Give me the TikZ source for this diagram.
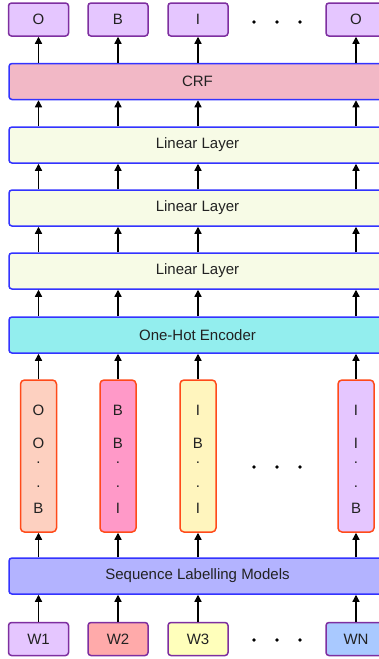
\documentclass[tikz,border=0pt]{standalone}
\usepackage{fontspec}
\setmainfont{Liberation Sans}
\usetikzlibrary{arrows.meta}

\definecolor{tagfill}{HTML}{E5C6FF}
\definecolor{tagline}{HTML}{7E2FA0}
\definecolor{layerline}{HTML}{3333FF}
\definecolor{crffill}{HTML}{F2B8C6}
\definecolor{linfill}{HTML}{F7FBE6}
\definecolor{encfill}{HTML}{93EEEE}
\definecolor{seqfill}{HTML}{B3B3FF}
\definecolor{vecline}{HTML}{FF4A1A}
\definecolor{vecA}{HTML}{FDD0C0}
\definecolor{vecB}{HTML}{FF99C8}
\definecolor{vecC}{HTML}{FFF5BE}
\definecolor{vecD}{HTML}{E5C6FF}
\definecolor{wordA}{HTML}{E5C6FF}
\definecolor{wordB}{HTML}{FFAAAA}
\definecolor{wordC}{HTML}{FFFFBB}
\definecolor{wordD}{HTML}{A9C9FF}
\definecolor{ink}{HTML}{222222}

\begin{document}
\begin{tikzpicture}[x=1pt, y=-1pt, font=\fontsize{15}{17}\selectfont,
  text=ink,
  layer/.style={draw=layerline, line width=1.5pt, rounded corners=3pt,
    minimum width=377pt, minimum height=36pt, inner sep=0pt},
  tag/.style={draw=tagline, line width=1.5pt, rounded corners=3pt,
    minimum width=60pt, minimum height=33pt, inner sep=0pt},
  vecbox/.style={draw=vecline, line width=1.5pt, rounded corners=4pt,
    minimum width=36pt, minimum height=152pt, inner sep=0pt},
  arr/.style={->, line width=1.3pt},
  >={Triangle[width=7pt,length=7pt]}]
\clip (0,0) rectangle (379,659);
\fill [white] (0,0) rectangle (379,659);

% layers
\node [layer, fill=crffill] (crf) at (197.5,81.5) {CRF};
\node [layer, fill=linfill] (l1) at (197.5,145) {Linear Layer};
\node [layer, fill=linfill] (l2) at (197.5,208) {Linear Layer};
\node [layer, fill=linfill] (l3) at (197.5,271) {Linear Layer};
\node [layer, fill=encfill] (enc) at (197.5,335) {One-Hot Encoder};
\node [layer, fill=seqfill] (seq) at (197.5,576) {Sequence Labelling Models};

% output tags and input words
\foreach \x/\t [count=\i] in {38.5/O,118/B,198/I,356/O}
  \node [tag, fill=tagfill] (o\i) at (\x,19.5) {\t};
\foreach \x/\c/\t [count=\i] in {38.5/wordA/W1,118/wordB/W2,198/wordC/W3,356/wordD/WN}
  \node [tag, fill=\c] (w\i) at (\x,639) {\t};

% tag vectors
\foreach \x/\c/\a/\b/\z [count=\i] in {38.5/vecA/O/O/B,118/vecB/B/B/I,198/vecC/I/B/I,356/vecD/I/I/B}
{
  \node [vecbox, fill=\c] (t\i) at (\x,456) {};
  \node at (\x,410) {\a};
  \node at (\x,443) {\b};
  \node [inner sep=0pt] at (\x,463) {.};
  \node [inner sep=0pt] at (\x,487) {.};
  \node at (\x,508) {\z};
}

% ellipsis
\foreach \y in {22,467,640}
  \foreach \x in {254,277,300}
    \fill (\x,\y) circle [radius=1.9];

% arrows
\foreach \i in {1,...,4}
{
  \draw [arr] (crf.north -| o\i) -- (o\i.south);
  \foreach \lo/\hi in {l1/crf,l2/l1,l3/l2,enc/l3}
    \draw [arr] (\lo.north -| o\i) -- (\hi.south -| o\i);
  \draw [arr] (t\i.north) -- (enc.south -| t\i);
  \draw [arr] (seq.north -| t\i) -- (t\i.south);
  \draw [arr] (w\i.north) -- (seq.south -| w\i);
}
\end{tikzpicture}
\end{document}
